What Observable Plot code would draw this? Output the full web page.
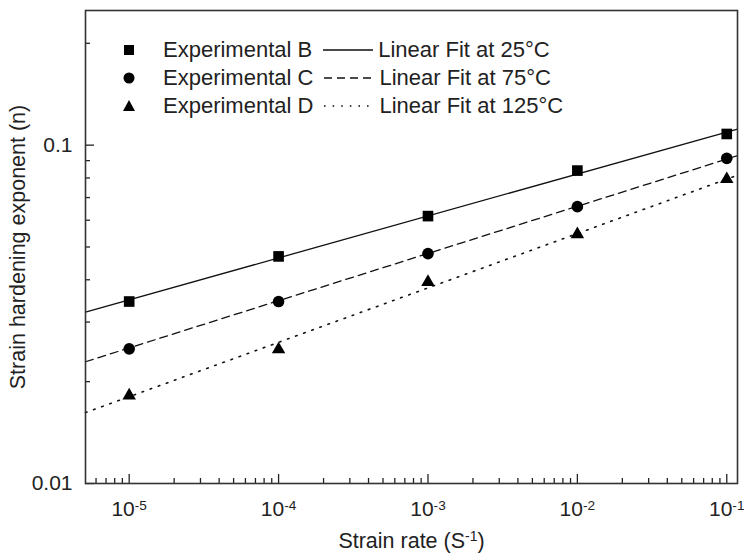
<!DOCTYPE html>
<html><head><meta charset="utf-8">
<script src="https://cdn.jsdelivr.net/npm/d3@7"></script>
<script src="https://cdn.jsdelivr.net/npm/@observablehq/plot@0.6"></script>
<style>
body{margin:0;background:#fff;font-family:"Liberation Sans",Arial,sans-serif;}
#wrap{position:relative;width:744px;height:553px;}
#legend{position:absolute;left:121px;top:36px;font-size:22px;color:#222;}
.row{display:flex;align-items:center;height:28px;white-space:nowrap;}
.row .mk{width:16px;height:28px;flex:none;}
.row .nm{margin-left:26px;}
.row .ln{margin-left:11px;margin-right:5px;width:50px;height:28px;flex:none;}
</style></head><body><div id="wrap"><div id="legend"></div></div>
<script>
// data
const strainRate = [1e-5, 1e-4, 1e-3, 1e-2, 1e-1];
const nB = [0.0345, 0.0469, 0.0617, 0.0841, 0.1079];
const nC = [0.0250, 0.0345, 0.0478, 0.0658, 0.0914];
const nD = [0.0182, 0.0249, 0.0394, 0.0545, 0.0793];
// linear fit end points (at the frame edges)
const fitRate = [5.1e-6, 0.118];
const fit25 = [0.0321, 0.1116];
const fit75 = [0.0229, 0.0931];
const fit125 = [0.0162, 0.0815];
const seriesNames = ["Experimental B", "Experimental C", "Experimental D"];
const fitNames = ["Linear Fit at 25°C", "Linear Fit at 75°C", "Linear Fit at 125°C"];
const xTicks = [1e-5, 1e-4, 1e-3, 1e-2, 1e-1];
const xTickExp = ["-5", "-4", "-3", "-2", "-1"];
const yTicks = [0.01, 0.1];
const yTickLabels = ["0.01", "0.1"];
const xMinor = [6e-6,7e-6,8e-6,9e-6,
  2e-5,3e-5,4e-5,5e-5,6e-5,7e-5,8e-5,9e-5,
  2e-4,3e-4,4e-4,5e-4,6e-4,7e-4,8e-4,9e-4,
  2e-3,3e-3,4e-3,5e-3,6e-3,7e-3,8e-3,9e-3,
  2e-2,3e-2,4e-2,5e-2,6e-2,7e-2,8e-2,9e-2];
const yMinor = [0.02,0.03,0.04,0.05,0.06,0.07,0.08,0.09,0.2];

const pts = (ys) => strainRate.map((x, i) => ({x, y: ys[i]}));
const fit = (ys) => fitRate.map((x, i) => ({x, y: ys[i]}));

const chart = Plot.plot({
  width: 744, height: 553,
  marginLeft: 85, marginRight: 7, marginTop: 10, marginBottom: 70,
  style: {fontFamily: "'Liberation Sans', Arial, sans-serif", color: "#222", background: "#fff"},
  x: {type: "log", domain: [fitRate[0], fitRate[1]]},
  y: {type: "log", domain: [0.01, 0.25]},
  marks: [
    Plot.line(fit(fit25), {x: "x", y: "y", stroke: "#111", strokeWidth: 1.3}),
    Plot.line(fit(fit75), {x: "x", y: "y", stroke: "#111", strokeWidth: 1.3, strokeDasharray: "8,5"}),
    Plot.line(fit(fit125), {x: "x", y: "y", stroke: "#111", strokeWidth: 1.6, strokeDasharray: "1.6,7"}),
    Plot.dot(pts(nB), {x: "x", y: "y", symbol: "square", r: 6, fill: "#000", stroke: "none"}),
    Plot.dot(pts(nC), {x: "x", y: "y", symbol: "circle", r: 5.8, fill: "#000", stroke: "none"}),
    Plot.dot(pts(nD), {x: "x", y: "y", symbol: "triangle", r: 5, fill: "#000", stroke: "none"}),
    // inward ticks
    Plot.axisX({ticks: xTicks, tickSize: -9, tickFormat: () => "", label: null, stroke: "#222", strokeWidth: 1.3}),
    Plot.axisX({ticks: xMinor, tickSize: -5, tickFormat: () => "", label: null, stroke: "#222", strokeWidth: 1.3}),
    Plot.axisY({ticks: yTicks, tickSize: -9, tickFormat: () => "", label: null, stroke: "#222", strokeWidth: 1.3}),
    Plot.axisY({ticks: yMinor, tickSize: -5, tickFormat: () => "", label: null, stroke: "#222", strokeWidth: 1.3}),
    // labels
    Plot.axisX({ticks: xTicks, tickSize: 0, tickPadding: 18, fontSize: 21, tickFormat: (d) => "10^" + xTickExp[xTicks.indexOf(d)],
      label: "Strain rate (S^-1)", labelAnchor: "center", labelOffset: 64, labelArrow: "none"}),
    Plot.axisY({ticks: yTicks, tickSize: 0, tickPadding: 13, fontSize: 21, tickFormat: (d) => yTickLabels[yTicks.indexOf(d)],
      label: "Strain hardening exponent (n)", labelAnchor: "center", labelOffset: 76, labelArrow: "none"}),
    Plot.frame({stroke: "#333", strokeWidth: 1.6})
  ]
});
document.getElementById("wrap").prepend(chart);

// superscripts
const svg = d3.select(chart);
svg.selectAll("text").each(function() {
  const t = d3.select(this);
  const s = t.text();
  if (s.includes("^")) {
    const [base, rest] = s.split("^");
    let sup = rest, tail = "";
    if (rest.endsWith(")")) { sup = rest.slice(0, -1); tail = ")"; }
    t.text(null);
    t.append("tspan").text(base);
    t.append("tspan").attr("dy", "-0.5em").attr("font-size", "0.65em").text(sup);
    if (tail) t.append("tspan").attr("dy", "0.33em").text(tail);
  }
});
svg.selectAll('g[aria-label="x-axis label"] text, g[aria-label="y-axis label"] text').attr("font-size", 21.5).attr("fill", "#222");

// legend (HTML overlay)
const legend = document.getElementById("legend");
const shapes = [
  '<rect x="3" y="9" width="10" height="10" fill="#000"/>',
  '<circle cx="8" cy="14" r="5.5" fill="#000"/>',
  '<path d="M8,8 L14,19 L2,19 Z" fill="#000"/>'
];
const dashes = ["", "8,5", "1.6,7"];
seriesNames.forEach((name, i) => {
  const row = document.createElement("div");
  row.className = "row";
  row.innerHTML =
    `<svg class="mk" width="16" height="28">${shapes[i]}</svg>` +
    `<span class="nm">${name}</span>` +
    `<svg class="ln" width="50" height="28"><line x1="0" x2="50" y1="14" y2="14" stroke="#111" stroke-width="${i==2?1.6:1.3}" ${dashes[i] ? `stroke-dasharray="${dashes[i]}"` : ""}/></svg>` +
    `<span>${fitNames[i]}</span>`;
  legend.appendChild(row);
});
</script>
</body></html>
